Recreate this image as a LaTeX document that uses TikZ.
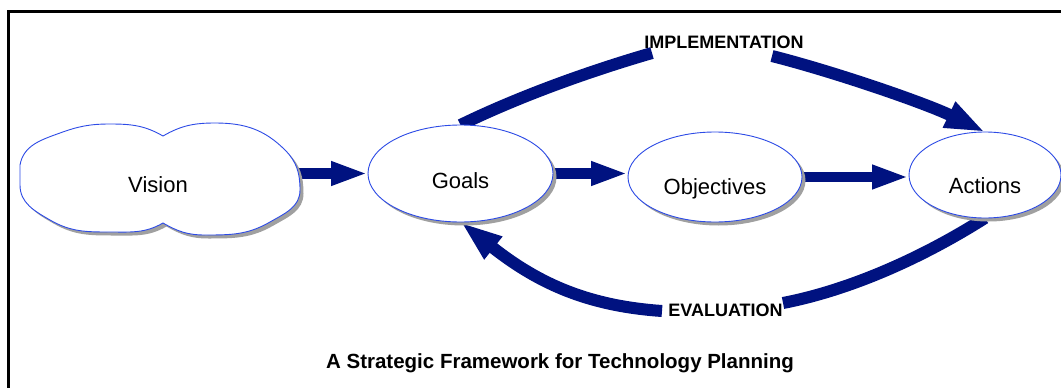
\documentclass[tikz,border=0pt]{standalone}
\usepackage{fontspec}
\setmainfont{Liberation Sans}
\usetikzlibrary{arrows.meta,shapes.geometric}
\definecolor{arrowblue}{RGB}{0,18,128}
\definecolor{edgeblue}{RGB}{45,75,230}
\definecolor{shadowgray}{RGB}{160,160,160}
\pgfdeclarelayer{paper}
\pgfdeclarelayer{bg}
\pgfsetlayers{paper,bg,main}
\tikzset{
  shadowed/.style={preaction={draw=none, fill=shadowgray, transform canvas={shift={(3.5pt,-3.5pt)}}}},
  ellbox/.style={ellipse, shadowed, draw=edgeblue, line width=0.9pt, fill=white,
    inner sep=2pt, outer sep=0pt, text depth=0pt, font=\fontsize{22}{26}\selectfont},
  cloudline/.style={shadowed, draw=edgeblue, line width=0.9pt, fill=white},
  cloudtext/.style={inner sep=0pt, outer sep=0pt, text depth=0pt, font=\fontsize{22}{26}\selectfont},
  flow/.style={draw=arrowblue, line width=10.5pt, -{Triangle[length=37pt,width=22pt]}},
  arcline/.style={draw=arrowblue, line width=12pt},
  lab/.style={font=\fontsize{18}{20}\selectfont\bfseries, inner sep=0pt},
  titletext/.style={font=\fontsize{20.5}{24}\selectfont\bfseries, inner sep=0pt}
}
\begin{document}
\begin{tikzpicture}[x=1pt,y=-1pt]
\useasboundingbox (0,0) rectangle (1061,388);
\clip (0,0) rectangle (1061,388);
\begin{pgfonlayer}{paper}
\fill[white] (0,0) rectangle (1061,388);
\end{pgfonlayer}
\draw[line width=3pt] (8,400) |- (1070,11.5);

% cloud outline
\path[cloudline] (20,165) to[out=80,in=200] (60,133) to[out=20,in=180] (110,124)
  to[out=0,in=150] (163,136) to[out=30,in=180] (215,123) to[out=0,in=135] (285,150)
  to[out=-45,in=90] (300,190) to[out=-90,in=30] (270,222) to[out=-150,in=0] (205,235)
  to[out=180,in=-30] (163,223) to[out=-150,in=0] (110,232) to[out=180,in=-30] (50,220)
  to[out=150,in=-90] (20,185) -- cycle;
\node[cloudtext, minimum width=278pt, minimum height=110pt, text height=24pt] (vision) at (158,180) {Vision};

\node[ellbox, minimum width=185pt, minimum height=97pt, text height=30pt] (goals) at (460.5,173.5) {Goals};
\node[ellbox, minimum width=174pt, minimum height=90pt, text height=34pt] (objectives) at (715,177) {Objectives};
\node[ellbox, minimum width=152pt, minimum height=86pt, text height=37pt] (actions) at (985,175) {Actions};

\coordinate (impA) at (652,53);
\coordinate (impB) at (772,56);
\coordinate (evA) at (783,303);
\coordinate (evB) at (662,311);

\begin{pgfonlayer}{bg}
\draw[flow] (vision.east |- goals.west) -- (goals.west);
\draw[flow] (goals.east) -- (objectives.west |- goals.east);
\draw[flow] (objectives.east) -- (actions.west |- objectives.east);
\draw[arcline] (goals.north) .. controls (520,96) and (590,71) .. (impA);
\draw[arcline, -{Triangle[length=40pt,width=26pt]}] (impB) .. controls (835,72) and (925,103) .. (actions.north);
\draw[arcline] (actions.south) .. controls (922,258) and (850,290) .. (evA);
\draw[arcline, -{Triangle[length=42pt,width=26pt]}] (evB) .. controls (590,306) and (540,285) .. (goals.south);
\end{pgfonlayer}

\node[lab, anchor=base] (imp) at (724,48) {IMPLEMENTATION};
\node[lab, anchor=base] (eval) at (725.5,316) {EVALUATION};
\node[titletext, anchor=base] (title) at (560,368.5) {A Strategic Framework for Technology Planning};
\end{tikzpicture}
\end{document}
